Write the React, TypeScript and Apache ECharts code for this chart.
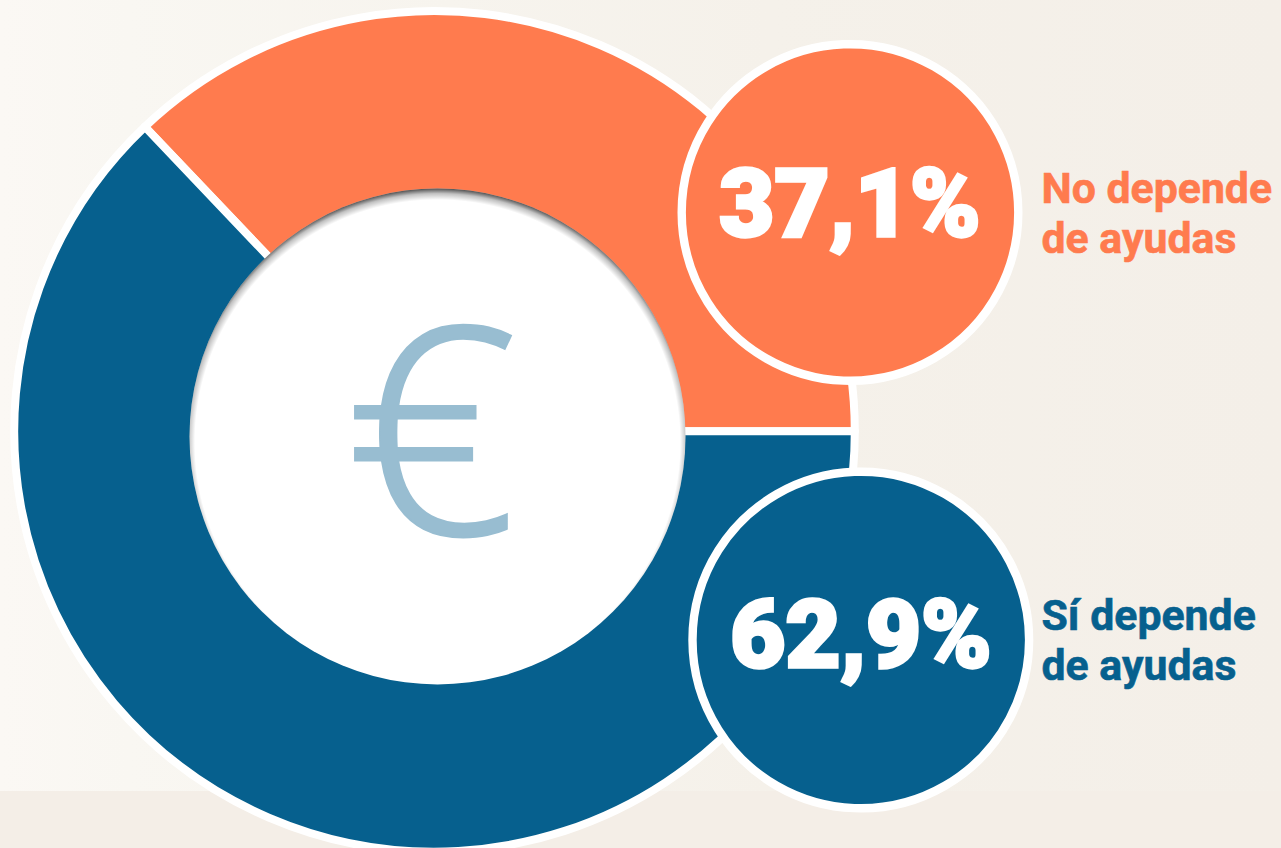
import React, { useEffect, useRef } from "react";
import * as echarts from "echarts";

const categories = ["No depende de ayudas", "Sí depende de ayudas"];
const shares = [37.1, 62.9];
const shareLabels = ["37,1%", "62,9%"];
const labelLines = [
  ["No depende", "de ayudas"],
  ["Sí depende", "de ayudas"],
];
const centerSymbol = "€";

const ORANGE = "#ff7b4e";
const BLUE = "#06608e";
const colors = [ORANGE, BLUE];

const bubbleLayout = [
  { cx: 850, cy: 212.5, textX: 850, textY: 203.5, labelY: 213 },
  { cx: 860.8, cy: 640, textX: 861, textY: 634.5, labelY: 640 },
];

export default function App() {
  const ref = useRef<HTMLDivElement>(null);
  useEffect(() => {
    const chart = echarts.init(ref.current!, undefined, { renderer: "svg" });
    const z = 10;
    const graphics: any[] = [
      { type: "circle", z, silent: true, shape: { cx: 437.5, cy: 436.5, r: 248 }, style: { fill: "#ffffff" } },
      {
        type: "circle",
        z: z + 1,
        silent: true,
        shape: { cx: 437.5, cy: 436.5, r: 248 },
        style: {
          fill: {
            type: "radial",
            x: 0.5,
            y: 0.512,
            r: 0.512,
            colorStops: [
              { offset: 0, color: "rgba(0,0,0,0)" },
              { offset: 0.955, color: "rgba(0,0,0,0)" },
              { offset: 0.98, color: "rgba(0,0,0,0.24)" },
              { offset: 1, color: "rgba(0,0,0,0.68)" },
            ],
          },
        },
      },
      {
        type: "text",
        z: z + 2,
        silent: true,
        x: 431,
        y: 422.5,
        scaleX: 1.05,
        style: {
          text: centerSymbol,
          fill: "#98bdd1",
          stroke: "#98bdd1",
          lineWidth: 3,
          font: '300 288px "Open Sans"',
          textAlign: "center",
          textVerticalAlign: "middle",
        },
      },
    ];
    shares.forEach((_, i) => {
      const b = bubbleLayout[i];
      graphics.push(
        {
          type: "circle",
          z: z + 3,
          silent: true,
          shape: { cx: b.cx, cy: b.cy, r: 168.3 },
          style: { fill: colors[i], stroke: "#ffffff", lineWidth: 8.4 },
        },
        {
          type: "text",
          z: z + 4,
          silent: true,
          x: b.textX,
          y: b.textY,
          style: {
            text: shareLabels[i],
            fill: "#ffffff",
            stroke: "#ffffff",
            lineWidth: 3.5,
            lineJoin: "miter",
            font: "900 95px Roboto",
            textAlign: "center",
            textVerticalAlign: "middle",
          },
        },
        {
          type: "text",
          z: z + 4,
          silent: true,
          x: 1041.5,
          y: b.labelY,
          style: {
            text: labelLines[i].join("\n"),
            fill: colors[i],
            stroke: colors[i],
            lineWidth: 0.6,
            font: "700 42.8px Roboto",
            lineHeight: 50,
            textAlign: "left",
            textVerticalAlign: "middle",
          },
        }
      );
    });
    chart.setOption({
      animation: false,
      backgroundColor: "transparent",
      series: [
        {
          type: "pie",
          silent: true,
          center: [434.5, 431.3],
          radius: [200, 420.3],
          startAngle: 133.56,
          clockwise: true,
          label: { show: false },
          labelLine: { show: false },
          itemStyle: { borderColor: "#ffffff", borderWidth: 8 },
          emphasis: { disabled: true },
          data: categories.map((name, i) => ({
            name,
            value: shares[i],
            itemStyle: { color: colors[i] },
          })),
        },
      ],
      graphic: { elements: graphics },
    });
    return () => chart.dispose();
  }, []);
  return (
    <div
      style={{
        position: "fixed",
        left: 0,
        top: 0,
        width: 1281,
        height: 848,
        overflow: "hidden",
        background:
          "linear-gradient(#f4eee7, #f4eee7) 0 791px / 100% 57px no-repeat, linear-gradient(90deg, #fbf8f4 0%, #f9f7f2 10%, #f5f1ea 60%, #f4efe8 100%)",
      }}
    >
      <div ref={ref} style={{ width: 1281, height: 848 }} />
    </div>
  );
}
